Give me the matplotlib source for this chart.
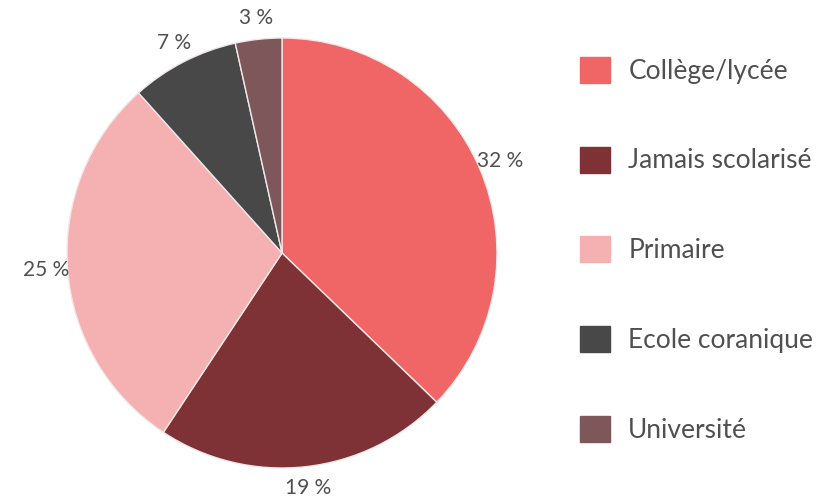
import matplotlib
matplotlib.use("Agg")
import matplotlib.pyplot as plt
import numpy as np

categories = ["Collège/lycée", "Jamais scolarisé", "Primaire", "Ecole coranique", "Université"]
values = [32, 19, 25, 7, 3]
labels = ["32 %", "19 %", "25 %", "7 %", "3 %"]
colors = ["#F06666", "#7F3235", "#F5B0B2", "#484848", "#7D5759"]

plt.rcParams['font.family'] = ['Lato', 'DejaVu Sans']
txt_color = "#505050"

fig = plt.figure(figsize=(8.26, 5.0), dpi=100)
ax = fig.add_axes([67/826, 32/500, 430/826, 430/500])
wedges, _ = ax.pie(values, colors=colors, startangle=90, counterclock=False,
                   wedgeprops=dict(edgecolor="#f0e8e8", linewidth=1.0))
ax.set_xlim(-1, 1)
ax.set_ylim(-1, 1)
ax.set_aspect('equal')

for w, lab in zip(wedges, labels):
    mid = np.deg2rad((w.theta1 + w.theta2) / 2)
    r = 1.1
    ax.text(r * np.cos(mid), r * np.sin(mid), lab, ha='center', va='center',
            fontsize=15, color=txt_color, clip_on=False)

handles = [plt.Rectangle((0, 0), 1, 1, color=c) for c in colors]
fig.legend(handles, categories, loc='upper left', bbox_to_anchor=(556/826, 1 - 33/500),
           frameon=False, fontsize=19, handlelength=1.14, handleheight=1.14,
           labelspacing=2.38, handletextpad=0.7, labelcolor=txt_color)

fig.savefig("out.png", dpi=100)
